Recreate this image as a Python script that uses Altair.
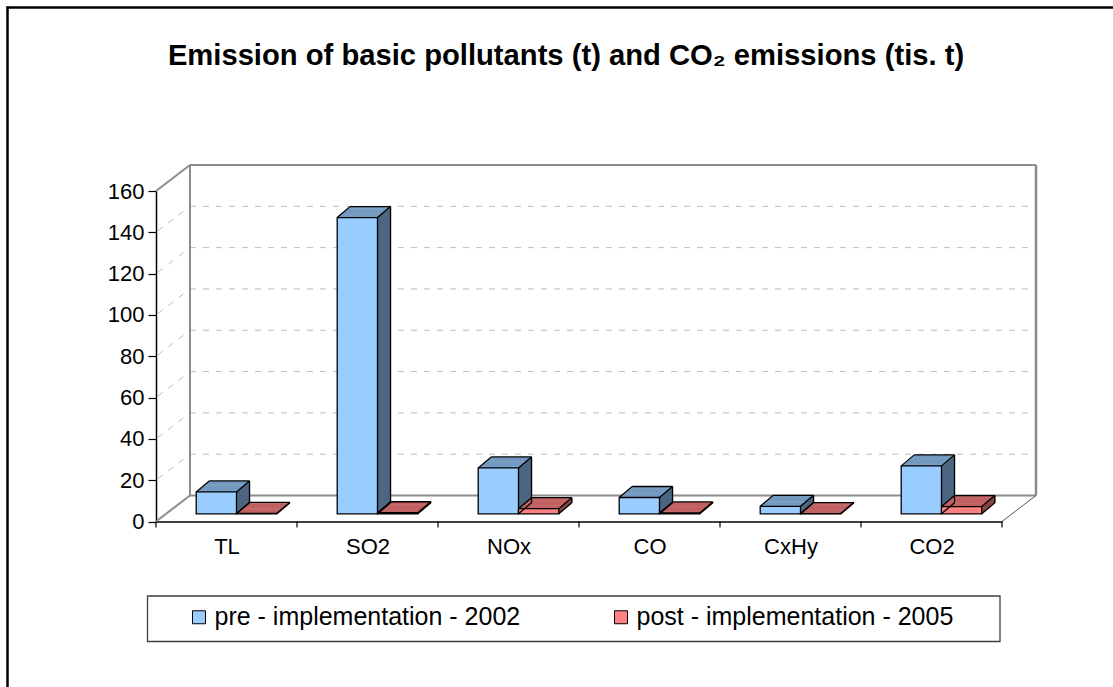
import altair as alt
import pandas as pd

# ---------------- data ----------------
categories = ["TL", "SO2", "NOx", "CO", "CxHy", "CO2"]
pre_2002 = [10.6, 143.4, 22.2, 7.9, 3.6, 23.2]
post_2005 = [0.2, 0.5, 2.5, 0.4, 0.1, 3.5]
series_names = ["pre - implementation - 2002", "post - implementation - 2005"]
y_ticks = [0, 20, 40, 60, 80, 100, 120, 140, 160]
grid_values = [20, 40, 60, 80, 100, 120, 140]

# ---------------- style ----------------
FRONT_COLORS = ["#99CCFF", "#FF8080"]
TOP_COLORS = ["#7399C0", "#C06060"]
SIDE_COLORS = ["#4D6682", "#8A4545"]
WALL = "#8C8C8C"
GRID = "#BDBDBD"
FONT = "Liberation Sans"

W_PX, H_PX = 846, 330.5
PAD_L, PAD_T = 156, 191
BAR_W = 0.2858           # bar width in category units
FDX, FDY = 10, -7.7      # front face of bars inside the floor
DX, DY = 13, -11         # bar depth
WDX, WDY = 34, -26       # wall depth
N_STEP = 13

rows = []
for i, c in enumerate(categories):
    rows.append(dict(cat=c, idx=i, s=0, series=series_names[0], value=pre_2002[i]))
    rows.append(dict(cat=c, idx=i, s=1, series=series_names[1], value=post_2005[i]))
bars = pd.DataFrame(rows)

xscale = alt.Scale(domain=[0, len(categories)], nice=False, zero=False)
yscale = alt.Scale(domain=[0, 160], nice=False)

label_list = "[" + ",".join("'" + c + "'" for c in categories) + "]"
x_axis = alt.Axis(values=[i + 0.5 for i in range(len(categories))],
                  labelExpr=label_list + "[floor(datum.value)]",
                  ticks=False, tickSize=0, grid=False, domain=True,
                  domainColor="black", domainWidth=1.5, labelFontSize=22,
                  labelFont=FONT, labelColor="black", labelPadding=15, title=None)
y_axis = alt.Axis(values=y_ticks, grid=False, domain=True, domainColor="black",
                  domainWidth=1.5, ticks=True, tickSize=8, tickColor="black",
                  tickWidth=1.2, labelFontSize=22, labelFont=FONT,
                  labelColor="black", labelPadding=4, title=None)

base = alt.Chart(bars).transform_calculate(
    x0=f"datum.idx + 0.5 - {BAR_W} + datum.s * {BAR_W}",
    zero="0",
).transform_calculate(x1=f"datum.x0 + {BAR_W}")

# every layer shares the very same scale and axis definitions
XN = lambda f: alt.X(f + ":Q", scale=xscale, axis=x_axis)
YN = lambda f: alt.Y(f + ":Q", scale=yscale, axis=y_axis)


def seg_chart(df, color, width, dash=None, xo=0, yo=0, x2o=0, y2o=0):
    kw = dict(color=color, strokeWidth=width, xOffset=xo, yOffset=yo,
              x2Offset=x2o, y2Offset=y2o)
    if dash:
        kw["strokeDash"] = dash
    return alt.Chart(df).mark_rule(**kw).encode(
        x=XN("x"), x2="x2:Q", y=YN("y"), y2="y2:Q")


n = len(categories)
layers = []

# outer frame of the picture and legend box (decoration)
frame_df = pd.DataFrame({"a": [0]})
layers.append(alt.Chart(frame_df).mark_rule(color="black", strokeWidth=2.5).encode(
    x=alt.value(7.5 - PAD_L), y=alt.value(6.5 - PAD_T), y2=alt.value(700 - PAD_T)))
layers.append(alt.Chart(frame_df).mark_rule(color="black", strokeWidth=2.5).encode(
    x=alt.value(6.5 - PAD_L), x2=alt.value(1120 - PAD_L), y=alt.value(7.5 - PAD_T)))
layers.append(alt.Chart(frame_df).mark_rect(fill="white", stroke="#404040", strokeWidth=1.3).encode(
    x=alt.value(147.5 - PAD_L), x2=alt.value(1000 - PAD_L),
    y=alt.value(596 - PAD_T), y2=alt.value(641.5 - PAD_T)))

# back-wall dashed grid and side-wall dashed diagonals
gdf = pd.DataFrame({"x": [0] * len(grid_values), "x2": [n] * len(grid_values),
                    "y": grid_values, "y2": grid_values})
layers.append(seg_chart(gdf, GRID, 1, [6, 7], WDX, WDY, WDX, WDY))
ddf = pd.DataFrame({"x": [0] * len(grid_values), "x2": [0] * len(grid_values),
                    "y": grid_values, "y2": grid_values})
layers.append(seg_chart(ddf, GRID, 1, [6, 7], 2, -1.5, WDX, WDY))


def one(x, x2, y, y2):
    return pd.DataFrame({"x": [x], "x2": [x2], "y": [y], "y2": [y2]})


# wall frame
layers.append(seg_chart(one(0, 0, 0, 160), WALL, 2, None, WDX, WDY, WDX, WDY))
layers.append(seg_chart(one(n, n, 0, 160), WALL, 2.5, None, WDX, WDY, WDX, WDY))
layers.append(seg_chart(one(0, n, 160, 160), WALL, 2, None, WDX, WDY, WDX, WDY))
layers.append(seg_chart(one(0, n, 0, 0), WALL, 2, None, WDX, WDY, WDX, WDY))
layers.append(seg_chart(one(0, 0, 160, 160), WALL, 2, None, 0, 0, WDX, WDY))
layers.append(seg_chart(one(0, 0, 0, 0), WALL, 2, None, 0, 0, WDX, WDY))
layers.append(seg_chart(one(n, n, 0, 0), "#555555", 1, None, 0, 0, WDX, WDY))

# x boundary ticks
tdf = pd.DataFrame({"x": list(range(n + 1)), "x2": list(range(n + 1)),
                    "y": [0] * (n + 1), "y2": [0] * (n + 1)})
layers.append(seg_chart(tdf, "black", 1.2, None, 0, 0, 0, 6))

# 3-D bars: per series top face bands, then side strips
for s in (0, 1):
    sub = base.transform_filter(f"datum.s == {s}")
    for k in range(1, N_STEP + 1):
        ox = FDX + DX * k / N_STEP
        oy = FDY + DY * k / N_STEP
        layers.append(sub.mark_bar(color=TOP_COLORS[s], strokeWidth=0,
                                   xOffset=ox, x2Offset=ox, yOffset=oy, y2Offset=oy + 1.4).encode(
            x=XN("x0"), x2="x1:Q", y=YN("value"), y2="value:Q"))
    for k in range(1, N_STEP + 1):
        ox1 = FDX + DX * (k - 1) / N_STEP
        ox2 = FDX + DX * k / N_STEP + 0.6
        oy = FDY + DY * k / N_STEP
        layers.append(sub.mark_bar(color=SIDE_COLORS[s], strokeWidth=0,
                                   xOffset=ox1, x2Offset=ox2, yOffset=oy, y2Offset=oy).encode(
            x=XN("x1"), x2="x1:Q", y=YN("value"), y2="zero:Q"))

# front faces with legend
legend = alt.Legend(orient="none", legendX=30.5, legendY=413.5, direction="horizontal",
                    columns=2, columnPadding=88, title=None, padding=0,
                    symbolType="square", symbolSize=169, symbolStrokeColor="black",
                    symbolStrokeWidth=1, symbolOpacity=1, labelFontSize=25,
                    labelFont=FONT, labelColor="black", labelOffset=3, labelLimit=0)
layers.append(base.mark_bar(stroke="black", strokeWidth=1.3, opacity=1,
                            xOffset=FDX, x2Offset=FDX, yOffset=FDY, y2Offset=FDY).encode(
    x=XN("x0"), x2="x1:Q", y=YN("value"), y2="zero:Q",
    color=alt.Color("series:N", scale=alt.Scale(domain=series_names, range=FRONT_COLORS),
                    legend=legend)))

# bar edges
EK = dict(color="black", strokeWidth=1.3)


def edge(xf, x2f, yf, y2f, xo, yo, x2o, y2o):
    return base.mark_rule(xOffset=xo, yOffset=yo, x2Offset=x2o, y2Offset=y2o, **EK).encode(
        x=XN(xf), x2=alt.X2(x2f + ":Q"), y=YN(yf), y2=alt.Y2(y2f + ":Q"))


BX, BY = FDX + DX, FDY + DY
layers.append(edge("x0", "x1", "value", "value", BX, BY, BX, BY))
layers.append(edge("x1", "x1", "value", "zero", BX, BY, BX, BY))
layers.append(edge("x0", "x0", "value", "value", FDX, FDY, BX, BY))
layers.append(edge("x1", "x1", "value", "value", FDX, FDY, BX, BY))
layers.append(edge("x1", "x1", "zero", "zero", FDX, FDY, BX, BY))

chart = alt.layer(*layers).properties(
    width=W_PX, height=H_PX,
    padding={"left": PAD_L, "top": PAD_T, "right": 1113 - PAD_L - W_PX,
             "bottom": 687 - PAD_T - H_PX},
    autosize=alt.AutoSizeParams(type="none"),
    title=alt.TitleParams("Emission of basic pollutants (t) and CO\u2082 emissions (tis. t)",
                          font=FONT, fontSize=29.2, fontWeight="bold", color="black",
                          anchor="middle", frame="group", dx=-13, offset=-89,
                          baseline="alphabetic"),
    background="white",
).configure_view(stroke=None)

chart.save("out.html", embed_options={"renderer": "svg", "actions": False})
